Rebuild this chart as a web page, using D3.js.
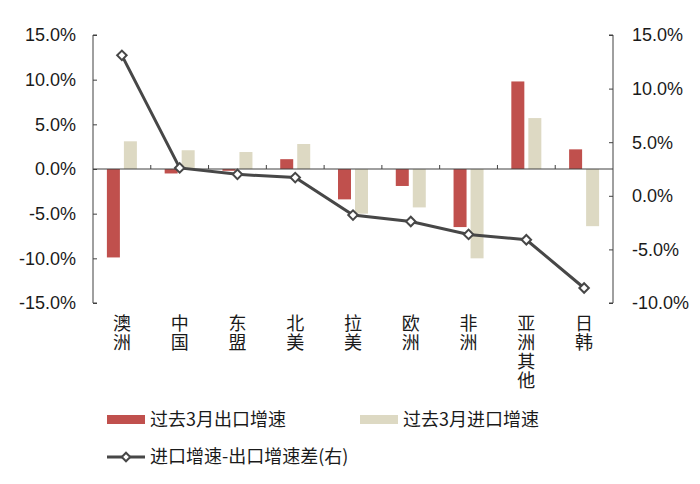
<!DOCTYPE html>
<html lang="zh">
<head>
<meta charset="UTF-8">
<title>进出口增速</title>
<style>
  body { margin: 0; background: #ffffff; }
  svg text { font-family: "Liberation Sans", Arial, "Noto Sans CJK SC", sans-serif; fill: #1a1a1a; }
  .cjk { font-family: "Noto Sans CJK SC", sans-serif; }
  .vert { writing-mode: vertical-rl; text-orientation: upright; letter-spacing: 1px; }
</style>
</head>
<body>
<svg id="chart" width="700" height="484"></svg>
<script src="https://cdn.jsdelivr.net/npm/d3@7/dist/d3.min.js"></script>
<script>
// data
const regions = ["澳洲", "中国", "东盟", "北美", "拉美", "欧洲", "非洲", "亚洲其他", "日韩"];
const exportGrowth = [-9.9, -0.5, -0.2, 1.1, -3.4, -1.9, -6.5, 9.8, 2.2];
const importGrowth = [3.1, 2.1, 1.9, 2.8, -5.0, -4.3, -10.0, 5.7, -6.4];
const growthGap = [13.1, 2.6, 2.0, 1.7, -1.8, -2.4, -3.6, -4.1, -8.6];
const leftTicks = [15, 10, 5, 0, -5, -10, -15];
const rightTicks = [15, 10, 5, 0, -5, -10];

const red = "#c0504d", beige = "#ddd9c3", lineColor = "#474747", axisColor = "#404040";
const svg = d3.select("#chart");
const plotLeft = 93, plotRight = 613, plotTop = 35, plotBottom = 303;

const x = d3.scaleBand().domain(regions).range([plotLeft, plotRight]);
const yL = d3.scaleLinear().domain([-15, 15]).range([plotBottom, plotTop]);
const yR = d3.scaleLinear().domain([-10, 15]).range([plotBottom, plotTop]);
const barW = 13, gap = 4;
const cx = d => x(d) + x.bandwidth() / 2;

// bars
const g = svg.append("g");
g.selectAll("rect.exp").data(exportGrowth).enter().append("rect")
  .attr("x", (d, i) => cx(regions[i]) - barW - gap / 2)
  .attr("y", d => yL(Math.max(d, 0)))
  .attr("width", barW)
  .attr("height", d => Math.abs(yL(d) - yL(0)))
  .attr("fill", red);
g.selectAll("rect.imp").data(importGrowth).enter().append("rect")
  .attr("x", (d, i) => cx(regions[i]) + gap / 2)
  .attr("y", d => yL(Math.max(d, 0)))
  .attr("width", barW)
  .attr("height", d => Math.abs(yL(d) - yL(0)))
  .attr("fill", beige);

// left axis
const la = svg.append("g").attr("transform", `translate(${plotLeft},0)`)
  .call(d3.axisRight(yL).tickValues(leftTicks).tickSize(4).tickFormat(""));
la.selectAll("path,line").attr("stroke", axisColor);
la.select(".domain").attr("d", `M4,${plotTop}H0V${plotBottom}H4`);
svg.append("g").selectAll("text").data(leftTicks).enter().append("text")
  .attr("x", 76).attr("y", d => yL(d)).attr("dy", "0.36em")
  .attr("text-anchor", "end").attr("font-size", 18)
  .text(d => d.toFixed(1) + "%");

// right axis
const ra = svg.append("g").attr("transform", `translate(${plotRight},0)`)
  .call(d3.axisLeft(yR).tickValues(rightTicks).tickSize(4).tickFormat(""));
ra.selectAll("path,line").attr("stroke", axisColor);
ra.select(".domain").attr("d", `M-4,${plotTop}H0V${plotBottom}H-4`);
svg.append("g").selectAll("text").data(rightTicks).enter().append("text")
  .attr("x", 632).attr("y", d => yR(d)).attr("dy", "0.36em")
  .attr("text-anchor", "start").attr("font-size", 18)
  .text(d => d.toFixed(1) + "%");

// category axis at zero
const zeroY = yL(0);
svg.append("line").attr("x1", plotLeft).attr("x2", plotRight).attr("y1", zeroY).attr("y2", zeroY)
  .attr("stroke", axisColor).attr("stroke-width", 1);
svg.append("g").selectAll("line").data(regions.slice(1)).enter().append("line")
  .attr("x1", d => x(d)).attr("x2", d => x(d))
  .attr("y1", zeroY).attr("y2", zeroY - 4)
  .attr("stroke", axisColor);

// vertical category labels
svg.append("g").selectAll("text").data(regions).enter().append("text")
  .attr("class", "cjk vert").attr("font-size", 18)
  .attr("x", d => cx(d)).attr("y", 314)
  .text(d => d);

// gap line on right axis
const line = d3.line().x((d, i) => cx(regions[i])).y(d => yR(d));
svg.append("path").datum(growthGap).attr("d", line)
  .attr("fill", "none").attr("stroke", lineColor).attr("stroke-width", 3);
svg.append("g").selectAll("path").data(growthGap).enter().append("path")
  .attr("d", d3.symbol().type(d3.symbolSquare).size(45))
  .attr("transform", (d, i) => `translate(${cx(regions[i])},${yR(d)}) rotate(45)`)
  .attr("fill", "#ffffff").attr("stroke", lineColor).attr("stroke-width", 2);

// legend
const lg = svg.append("g");
lg.append("rect").attr("x", 107).attr("y", 415).attr("width", 38).attr("height", 9).attr("fill", red);
lg.append("text").attr("class", "cjk").attr("x", 150).attr("y", 420).attr("dy", "0.36em")
  .attr("font-size", 18).text("过去3月出口增速");
lg.append("rect").attr("x", 360).attr("y", 415).attr("width", 38).attr("height", 9).attr("fill", beige);
lg.append("text").attr("class", "cjk").attr("x", 403).attr("y", 420).attr("dy", "0.36em")
  .attr("font-size", 18).text("过去3月进口增速");
lg.append("line").attr("x1", 107).attr("x2", 145).attr("y1", 457).attr("y2", 457)
  .attr("stroke", lineColor).attr("stroke-width", 3);
lg.append("path").attr("d", d3.symbol().type(d3.symbolSquare).size(36))
  .attr("transform", "translate(126,457) rotate(45)")
  .attr("fill", "#ffffff").attr("stroke", lineColor).attr("stroke-width", 2);
lg.append("text").attr("class", "cjk").attr("x", 150).attr("y", 457).attr("dy", "0.36em")
  .attr("font-size", 18).text("进口增速-出口增速差(右)");
</script>
</body>
</html>
